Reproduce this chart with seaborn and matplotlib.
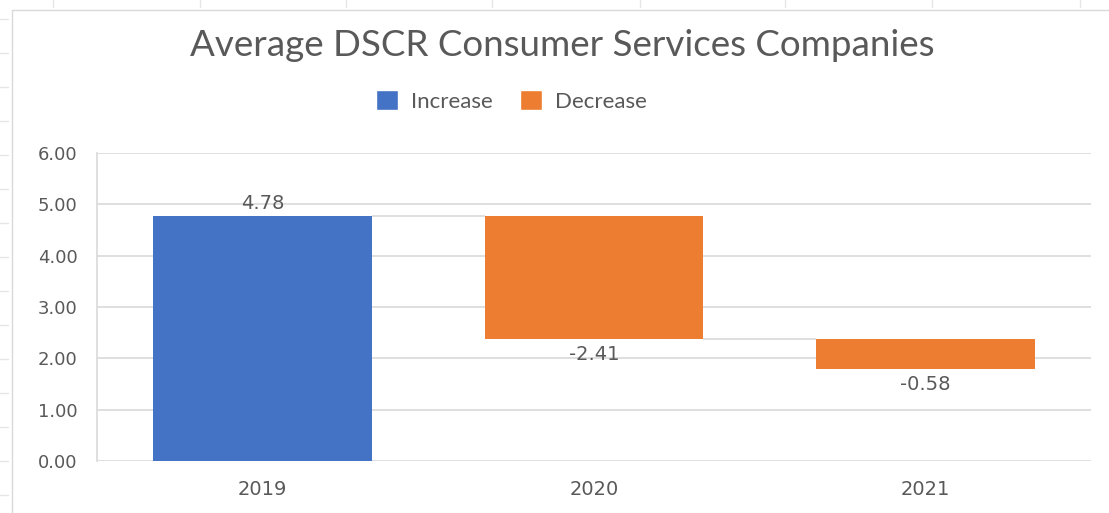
import matplotlib
matplotlib.use("Agg")
import matplotlib.pyplot as plt
from matplotlib.lines import Line2D
from matplotlib.patches import Patch
import seaborn as sns
import pandas as pd
import numpy as np

# ---- data ----
years = ["2019", "2020", "2021"]
changes = [4.78, -2.41, -0.58]
kinds = ["Increase", "Decrease", "Decrease"]
legend_labels = ["Increase", "Decrease"]
yticks = [0, 1, 2, 3, 4, 5, 6]

BLUE = "#4472C4"
ORANGE = "#ED7D31"
TEXT = "#595959"
GRID = "#D9D9D9"

# waterfall bases
ends = np.cumsum(changes)
starts = ends - np.array(changes)
bottoms = np.minimum(starts, ends)
spans = np.abs(changes)

df = pd.DataFrame({"year": years, "span": spans, "kind": kinds})

sns.set_theme(style="white")
plt.rcParams["font.family"] = ["DejaVu Sans"]

fig = plt.figure(figsize=(11.09, 5.13), dpi=100)
ax = fig.add_axes([97 / 1109, 1 - 461 / 513, (1091 - 97) / 1109, (461 - 153) / 513])

sns.barplot(data=df, x="year", y="span", hue="kind", order=years,
            hue_order=legend_labels, palette=[BLUE, ORANGE], dodge=False,
            width=0.66, ax=ax, legend=False, saturation=1, linewidth=0)

# move bars to their waterfall bases
for p in ax.patches:
    idx = int(round(p.get_x() + p.get_width() / 2))
    p.set_y(bottoms[idx])
    p.set_height(spans[idx])
    p.set_zorder(3)

ax.set_xlim(-0.5, 2.5)
ax.set_ylim(0, 6)
ax.set_yticks(yticks)
ax.set_yticklabels([f"{v:.2f}" for v in yticks])
ax.grid(axis="y", color=GRID, linewidth=1.2, zorder=0)
ax.set_axisbelow(True)
for s in ["top", "right", "bottom"]:
    ax.spines[s].set_visible(False)
ax.spines["left"].set_color(GRID)
ax.spines["left"].set_linewidth(1.2)
ax.tick_params(axis="y", length=0, pad=14, labelsize=13, labelcolor=TEXT)
ax.tick_params(axis="x", length=0, pad=14, labelsize=14, labelcolor=TEXT)
ax.set_xlabel("")
ax.set_ylabel("")

# connector lines
bw = 0.66
for i in range(len(years) - 1):
    ax.hlines(ends[i], i + bw / 2, i + 1 - bw / 2, color=GRID, linewidth=1.2, zorder=2)

# data labels
for i, c in enumerate(changes):
    if c >= 0:
        ax.annotate(f"{c:.2f}", (i, ends[i]), xytext=(0, 2), textcoords="offset points",
                    ha="center", va="bottom", fontsize=14, color=TEXT)
    else:
        ax.annotate(f"{c:.2f}", (i, bottoms[i]), xytext=(0, -4), textcoords="offset points",
                    ha="center", va="top", fontsize=14, color=TEXT)

# title and legend
fig.text(0.507, 1 - 46 / 513, "Average DSCR Consumer Services Companies",
         ha="center", va="center", fontsize=26.5, color=TEXT, family=["Lato", "DejaVu Sans"])
handles = [Patch(facecolor=BLUE, label="Increase"), Patch(facecolor=ORANGE, label="Decrease")]
fig.legend(handles=handles, loc="center", bbox_to_anchor=(0.461, 1 - 101 / 513), ncol=2,
           frameon=False, handlelength=1.0, handleheight=1.0, handletextpad=0.6,
           columnspacing=1.2, prop={"family": ["Lato", "DejaVu Sans"], "size": 16},
           labelcolor=TEXT)

# sheet/chart frame artefacts
W, H = 1109, 513
def fl(x0, y0, x1, y1, c=GRID, lw=1.0):
    fig.add_artist(Line2D([x0 / W, x1 / W], [1 - y0 / H, 1 - y1 / H], color=c, linewidth=lw))
fl(12, 10, 1109, 10)
fl(12, 10, 12, 513)
for xt in [53, 200, 346, 492, 640, 785, 932, 1080]:
    fl(xt, 0, xt, 7, c="#E6E6E6")
for yt in range(19, 513, 34):
    fl(0, yt, 8, yt, c="#E6E6E6")

fig.savefig("out.png", dpi=100, facecolor="white")
